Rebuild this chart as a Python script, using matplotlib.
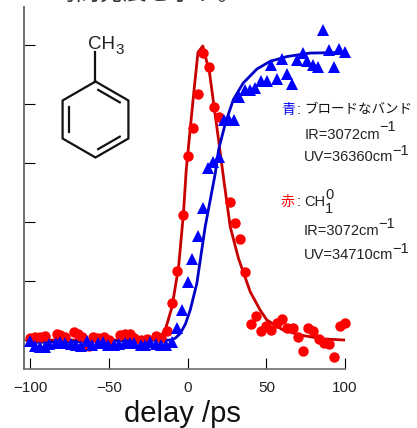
import numpy as np
import matplotlib
matplotlib.use('Agg')
import matplotlib.pyplot as plt

plt.rcParams['font.family'] = ['Liberation Sans', 'Noto Sans CJK JP', 'DejaVu Sans']

# red circles, CH 0-1
red_x = [-100, -97, -94, -91, -83, -81, -78, -72, -70, -67, -63, -60, -57, -53, -50, -43, -40, -37,
         -34, -30, -26, -20, -17, -13.2, -9.8, -6.7, -3.3, 0.1, 3.5, 6.7, 10, 13.4, 16.8, 20,
         26.8, 30.2, 33.3, 36.5, 40.1, 43.3, 46.7, 50, 53.2, 56.6, 60, 63.4, 66.8, 70, 73.3,
         76.5, 79.9, 83.3, 86.7, 90, 93.2, 96.6, 100]
red_y = [0.03, 0.05, 0.05, 0.07, 0.1, 0.08, 0.05, 0.13, 0.1, 0.05, -0.1, 0.05, 0.03, 0.05, 0, 0.08,
         0.1, 0.1, 0.03, 0, 0.02, 0.07, 0.03, 0.16, 0.62, 1.17, 2.12, 3.12, 3.59, 4.17, 4.86, 4.62,
         3.94, 3.78, 2.34, 1.99, 1.71, 1.16, 0.27, 0.40, 0.15, 0.24, 0.17, 0.29, 0.35, 0.2, 0.2,
         0.05, -0.18, 0.21, 0.16, 0.02, -0.05, -0.06, -0.28, 0.23, 0.29]

# blue triangles, broad band
blue_x = [-100, -97, -94, -91, -88, -84, -81, -78, -74, -71, -68, -64, -61, -57, -54, -51, -47, -44,
          -40, -37, -34, -30, -27, -24, -20, -17, -14, -10, -6.9, -3.5, -0.1, 3, 6.5, 9.8, 13.2,
          16.2, 19.8, 23.2, 26.5, 29.7, 32.9, 36.5, 39.7, 42.9, 46.5, 50.3, 53, 56.6, 59.8, 63.2,
          66.5, 69.7, 73.1, 76.1, 79.5, 82.9, 86.2, 89.6, 93, 96.4, 99.8]
blue_y = [-0.02, -0.1, -0.12, -0.11, -0.06, -0.05, -0.04, -0.05, -0.06, -0.09, -0.1, -0.02, -0.08,
          -0.05, -0.03, -0.09, -0.09, -0.06, -0.05, -0.05, -0.05, -0.08, -0.09, -0.03, -0.07, -0.08,
          -0.08, -0.03, 0.2, 0.51, 0.99, 1.37, 1.77, 2.24, 2.92, 3.02, 3.1, 3.73, 3.72, 3.73, 4.11,
          4.24, 4.23, 4.27, 4.38, 4.39, 4.66, 4.42, 4.76, 4.51, 4.33, 4.74, 4.86, 4.72, 4.65, 4.63,
          5.25, 4.92, 4.62, 4.93, 4.88]

# fitted curves
red_fit_x = [-100, -30, -18.5, -14.3, -10, -5.8, -2.7, -0.95, 0.5, 3.7, 6.5, 9.6, 13.9, 19.6, 23.2,
             27, 32.3, 39.7, 46, 50.3, 60.6, 71.4, 86, 100]
red_fit_y = [0, 0, 0.03, 0.17, 0.56, 1.24, 2.15, 2.88, 3.28, 4.15, 4.87, 4.98, 4.52, 3.39, 2.66,
             1.92, 1.38, 0.82, 0.51, 0.34, 0.17, 0.085, 0.02, 0]
blue_fit_x = [-100, -11, -8, -4.8, -1.5, 1.6, 5.8, 11.1, 17.5, 19.6, 24, 29, 35.2, 44, 52.4, 63, 77.8,
              98.7, 100]
blue_fit_y = [-0.04, 0, 0.03, 0.11, 0.27, 0.51, 0.96, 1.92, 2.82, 3.22, 3.68, 4.07, 4.35, 4.59, 4.72,
              4.8, 4.86, 4.87, 4.87]

x_ticks = [-100, -50, 0, 50, 100]
x_labels = ['\u2212100', '\u221250', '0', '50', '100']
y_ticks = [0, 1, 2, 3, 4, 5]

W, H = 417, 428
fig = plt.figure(figsize=(W / 100, H / 100), dpi=100)

# axes box from the pixel positions of the spines
ax = fig.add_axes([24 / W, 1 - 369 / H, (345 - 24) / W, (369 - 7) / H])
ax.set_xlim(-104.1, 100)
ax.set_ylim(-0.49, 5.64)
ax.spines['top'].set_visible(False)
ax.spines['right'].set_visible(False)
ax.spines['left'].set_color('#707070')
ax.spines['bottom'].set_color('#707070')
ax.spines['left'].set_linewidth(1.4)
ax.spines['bottom'].set_linewidth(1.2)
ax.set_xticks(x_ticks)
ax.set_xticklabels(x_labels)
ax.set_yticks(y_ticks)
ax.set_yticklabels([])
ax.tick_params(axis='both', direction='in', length=8, width=0.8, color='black')
ax.tick_params(axis='x', labelsize=11, pad=9, labelcolor='#222222')

ax.plot(red_fit_x, red_fit_y, color='#c80000', lw=2, zorder=2)
ax.plot(blue_fit_x, blue_fit_y, color='#0000c8', lw=2, zorder=2)
ax.plot(red_x, red_y, 'o', color='#ff0000', ms=7.5, mew=0, zorder=3, clip_on=False)
ax.plot(blue_x, blue_y, '^', color='#0000ff', ms=8, mew=0, zorder=4, clip_on=False)

# overlay in pixel coordinates for labels and the molecule
ov = fig.add_axes([0, 0, 1, 1])
ov.set_xlim(0, W)
ov.set_ylim(H, 0)
ov.axis('off')
ov.patch.set_alpha(0)

ov.text(182, 414, 'delay /ps', fontsize=21, ha='center', va='center', color='#111111')

# toluene
cx, cy, r = 95.5, 119.5, 38
ang = np.radians(np.arange(-90, 300, 60))
vx = cx + r * np.cos(ang)
vy = cy + r * np.sin(ang)
ov.plot(vx, vy, color='#111111', lw=1.6, solid_joinstyle='miter')
ov.plot([cx, cx], [cy - r, 52], color='#111111', lw=1.6)
for i in [0, 2, 4]:
    a = [cx + 0.82 * (vx[i] - cx), cy + 0.82 * (vy[i] - cy)]
    b = [cx + 0.82 * (vx[i + 1] - cx), cy + 0.82 * (vy[i + 1] - cy)]
    t = 0.1
    ov.plot([a[0] + t * (b[0] - a[0]), b[0] - t * (b[0] - a[0])],
            [a[1] + t * (b[1] - a[1]), b[1] - t * (b[1] - a[1])], color='#111111', lw=1.6)
ov.text(88, 44, 'CH', fontsize=13.5, ha='left', va='center', color='#222222')
ov.text(115, 50, '3', fontsize=11, ha='left', va='center', color='#222222')

# annotation block
fs = 10.5
ov.text(281, 110, '青', fontsize=10, color='#0000ff', ha='left', va='center')
ov.text(297, 110, ':', fontsize=fs, color='#222222', ha='left', va='center')
ov.text(304, 110, 'ブロードなバンド', fontsize=9.7, color='#111111', ha='left', va='center')
ov.text(305, 135, 'IR=3072cm', fontsize=fs, color='#222222', ha='left', va='center')
ov.text(379, 127, '\u22121', fontsize=fs, color='#222222', ha='left', va='center')
ov.text(304, 157, 'UV=36360cm', fontsize=fs, color='#222222', ha='left', va='center')
ov.text(392, 151, '\u22121', fontsize=fs, color='#222222', ha='left', va='center')

ov.text(281, 202, '赤', fontsize=10, color='#ff0000', ha='left', va='center')
ov.text(297, 202, ':', fontsize=fs, color='#222222', ha='left', va='center')
ov.text(304, 202, 'CH', fontsize=fs, color='#222222', ha='left', va='center')
ov.text(325, 195, '0', fontsize=fs, color='#222222', ha='left', va='center')
ov.text(325, 209, '1', fontsize=fs, color='#222222', ha='left', va='center')
ov.text(304, 231, 'IR=3072cm', fontsize=fs, color='#222222', ha='left', va='center')
ov.text(378, 224, '\u22121', fontsize=fs, color='#222222', ha='left', va='center')
ov.text(304, 255, 'UV=34710cm', fontsize=fs, color='#222222', ha='left', va='center')
ov.text(392, 249, '\u22121', fontsize=fs, color='#222222', ha='left', va='center')

# sentence cut off by the top edge
ov.text(52, -5, '時間発展を示す。', fontsize=17, color='#333333', ha='left', va='center', clip_on=False)

fig.savefig('out.png', dpi=100)
